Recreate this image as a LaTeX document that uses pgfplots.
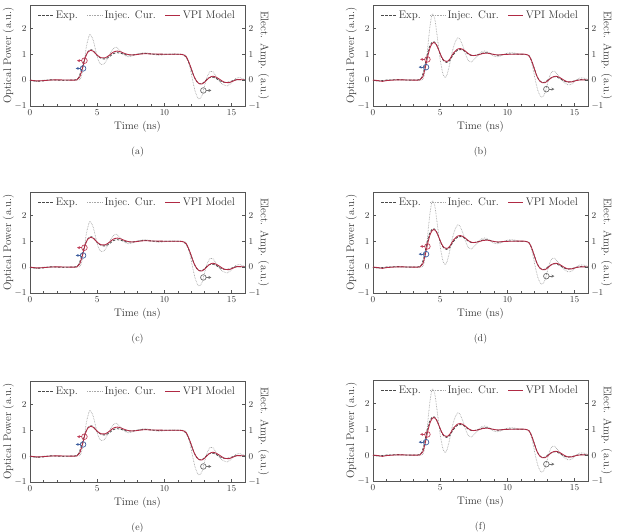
\documentclass[border=0pt]{standalone}
\usepackage{pgfplots}
\pgfplotsset{compat=1.18}
\usepackage{pgfplotstable}
\usetikzlibrary{arrows.meta}
\definecolor{expc}{HTML}{4A4A4A}
\definecolor{injc}{HTML}{A8A8A8}
\definecolor{vpic}{HTML}{B02A44}
\definecolor{axc}{HTML}{555555}
\definecolor{redm}{HTML}{C0405A}
\definecolor{bluem}{HTML}{3D5E9E}
\definecolor{graym}{HTML}{707070}

\pgfplotsset{
 expst/.style={expc, line width=0.8pt, dash pattern=on 2.5pt off 1.5pt, smooth, tension=0.5},
 injst/.style={injc, line width=0.7pt, dash pattern=on 0.7pt off 0.9pt, smooth, tension=0.5},
 vpist/.style={vpic, line width=0.85pt, smooth, tension=0.5},
 panelbase/.style={scale only axis, width=215pt, height=101pt, xmin=0, xmax=16, ymin=-1, ymax=2.9,
  anchor=south west,
  axis line style={axc, line width=0.6pt}, tick style={axc, line width=0.5pt},
  major tick length=3pt, minor tick length=2pt,
  tick label style={font=\fontsize{9.5}{11}\selectfont, text=black!80},
  label style={font=\fontsize{11}{13}\selectfont, text=black!80},
  ytick={-1,0,1,2}},
}

\pgfplotstableread{
t v
0 0
0.5 -0.04
1.0 -0.03
1.5 0.01
2.0 0.0
2.5 -0.01
3.0 0.0
3.4 0.01
3.6 0.08
3.8 0.35
4.0 0.72
4.2 1.0
4.4 1.15
4.6 1.17
4.8 1.08
5.0 0.95
5.3 0.84
5.6 0.82
5.9 0.9
6.2 1.02
6.5 1.06
6.8 1.03
7.2 0.97
7.6 0.97
8.0 1.0
8.5 1.03
9.0 1.01
9.5 0.99
10.0 1.0
10.5 1.0
11.0 1.0
11.4 0.98
11.6 0.9
11.8 0.7
12.0 0.42
12.2 0.15
12.4 -0.05
12.6 -0.14
12.8 -0.14
13.0 -0.06
13.2 0.05
13.5 0.12
13.8 0.08
14.1 -0.02
14.4 -0.08
14.7 -0.09
15.0 -0.04
15.3 0.01
15.6 0.02
16.0 0.0
}\expA

\pgfplotstableread{
t v
0 0
0.3 -0.06
0.6 -0.05
1.0 0.0
1.5 0.01
2.0 0.0
3.0 0.0
3.6 0.0
3.8 0.1
4.0 0.6
4.2 1.3
4.4 1.72
4.5 1.75
4.7 1.55
4.9 1.12
5.1 0.75
5.3 0.6
5.5 0.62
5.8 0.85
6.1 1.15
6.4 1.27
6.7 1.15
7.0 0.98
7.3 0.9
7.6 0.93
8.0 1.0
8.5 1.06
9.0 1.02
9.5 0.96
10.0 0.98
10.5 1.01
11.0 1.0
11.5 0.99
11.7 0.85
11.9 0.5
12.1 0.0
12.3 -0.45
12.5 -0.7
12.6 -0.73
12.8 -0.6
13.0 -0.2
13.2 0.15
13.4 0.33
13.6 0.33
13.8 0.18
14.1 -0.05
14.4 -0.18
14.7 -0.22
15.0 -0.1
15.3 0.06
15.6 0.1
15.8 0.06
16.0 0.02
}\injA

\pgfplotstableread{
t v
0 0
0.5 -0.03
1.0 -0.02
1.5 0.0
2.0 0.01
3.0 0.0
3.5 0.01
3.7 0.12
3.9 0.45
4.1 0.85
4.3 1.08
4.5 1.15
4.7 1.12
5.0 0.96
5.3 0.86
5.6 0.86
5.9 0.96
6.2 1.08
6.5 1.12
6.8 1.08
7.2 1.0
7.6 0.97
8.0 0.99
8.5 1.02
9.0 1.01
10.0 1.0
11.0 1.0
11.4 0.98
11.6 0.92
11.8 0.72
12.0 0.45
12.2 0.15
12.4 -0.04
12.6 -0.14
12.8 -0.15
13.0 -0.08
13.3 0.08
13.6 0.15
13.9 0.1
14.2 0.0
14.5 -0.09
14.8 -0.1
15.1 -0.04
15.4 0.02
15.8 0.01
16.0 0.0
}\vpiA

\pgfplotstableread{
t v
0 0
0.5 -0.03
1.0 0.0
1.5 0.01
2.0 0.02
2.5 0.0
3.0 0.0
3.4 0.01
3.6 0.08
3.8 0.4
4.0 0.9
4.2 1.28
4.4 1.46
4.55 1.48
4.7 1.4
4.9 1.15
5.1 0.88
5.3 0.72
5.5 0.68
5.7 0.75
5.9 0.92
6.2 1.12
6.5 1.18
6.8 1.12
7.1 1.0
7.4 0.94
7.8 0.98
8.2 1.05
8.5 1.06
8.9 1.0
9.3 0.96
9.7 0.99
10.2 1.01
10.8 1.0
11.3 0.99
11.6 0.95
11.8 0.75
12.0 0.45
12.2 0.15
12.4 -0.02
12.6 -0.1
12.8 -0.08
13.0 0.0
13.3 0.1
13.6 0.13
13.9 0.06
14.2 -0.03
14.5 -0.08
14.8 -0.06
15.1 -0.01
15.5 0.02
16.0 0.0
}\expB

\pgfplotstableread{
t v
0 0
0.3 -0.05
0.6 -0.04
1.0 0.0
2.0 0.0
3.0 0.0
3.6 0.0
3.8 0.15
4.0 0.9
4.2 1.9
4.35 2.45
4.45 2.55
4.6 2.35
4.8 1.6
5.0 0.8
5.2 0.25
5.35 0.1
5.5 0.2
5.7 0.6
5.9 1.1
6.1 1.45
6.3 1.63
6.45 1.6
6.7 1.3
6.9 0.98
7.1 0.75
7.3 0.7
7.5 0.78
7.8 0.95
8.1 1.1
8.4 1.12
8.7 1.02
9.0 0.92
9.3 0.9
9.6 0.96
10.0 1.04
10.4 1.06
10.8 1.01
11.2 0.99
11.5 0.98
11.7 0.85
11.9 0.45
12.1 -0.05
12.3 -0.45
12.5 -0.65
12.6 -0.66
12.8 -0.5
13.0 -0.1
13.2 0.22
13.4 0.35
13.6 0.3
13.9 0.1
14.2 -0.08
14.5 -0.18
14.8 -0.15
15.1 -0.02
15.4 0.08
15.7 0.08
16.0 0.02
}\injB

\pgfplotstableread{
t v
0 0
0.4 -0.02
0.7 -0.05
1.0 -0.02
1.5 0.0
2.0 0.01
3.0 0.0
3.5 0.01
3.7 0.12
3.9 0.5
4.1 0.98
4.3 1.32
4.5 1.45
4.7 1.38
4.9 1.15
5.1 0.9
5.3 0.75
5.5 0.72
5.7 0.8
6.0 1.05
6.3 1.2
6.5 1.22
6.8 1.15
7.1 1.02
7.4 0.95
7.8 0.97
8.2 1.03
8.5 1.04
8.9 1.0
9.3 0.97
9.8 0.99
10.5 1.0
11.3 1.0
11.6 0.94
11.8 0.75
12.0 0.45
12.2 0.15
12.4 -0.03
12.6 -0.1
12.8 -0.1
13.0 -0.03
13.3 0.1
13.6 0.15
13.9 0.1
14.2 0.0
14.5 -0.07
14.8 -0.07
15.1 -0.02
15.5 0.01
16.0 0.0
}\vpiB

\newcommand{\panel}[9]{%
 \begin{axis}[panelbase, at={(#1pt,#2pt)}, clip=false,
   xtick={0,5,10,15}, minor x tick num=4, tick pos=left,
   xlabel={Time (ns)}, ylabel={Optical Power (a.u.)}, ylabel shift=-6pt,
   xlabel shift=-1pt,
   legend columns=3,
   legend style={at={(0.5,0.97)}, anchor=north, draw=none, fill=none,
     font=\fontsize{11}{13}\selectfont, text=black!80, inner sep=1pt,
     /tikz/every even column/.append style={column sep=7pt}},
   legend image code/.code={\draw[##1] (0pt,0pt) -- (15pt,0pt);}]
  \addlegendimage{expst}\addlegendentry{Exp.}
  \addlegendimage{injst}\addlegendentry{Injec. Cur.}
  \addlegendimage{vpist}\addlegendentry{VPI Model}
  \addplot[injst, forget plot] table {#4};
  \addplot[expst, forget plot] table {#3};
  \addplot[vpist, forget plot] table {#5};
  \addplot[only marks, mark=o, mark size=2.8pt, redm, mark options={line width=0.7pt}, forget plot] coordinates {(4.05,#7)};
  \addplot[redm, line width=0.7pt, -{Stealth[length=3pt,width=3pt]}, forget plot] coordinates {(3.84,#7) (3.5,#7)};
  \addplot[only marks, mark=o, mark size=2.8pt, bluem, mark options={line width=0.7pt}, forget plot] coordinates {(3.95,#8)};
  \addplot[bluem, line width=0.7pt, -{Stealth[length=3pt,width=3pt]}, forget plot] coordinates {(3.74,#8) (3.4,#8)};
  \addplot[only marks, mark=o, mark size=2.8pt, graym, mark options={line width=0.7pt}, forget plot] coordinates {(12.9,#9)};
  \addplot[graym, line width=0.7pt, -{Stealth[length=3pt,width=3pt]}, forget plot] coordinates {(13.11,#9) (13.5,#9)};
  \node[font=\fontsize{10}{12}\selectfont, text=black!80, yshift=-46pt] at (rel axis cs:0.5,0) {#6};
 \end{axis}
 \begin{axis}[panelbase, at={(#1pt,#2pt)}, axis x line=none, axis y line*=right,
   ylabel={Elect. Amp. (a.u.)}, ylabel style={rotate=180}, ylabel shift=-9pt]
 \end{axis}
}

\begin{document}
\begin{tikzpicture}
\useasboundingbox (0pt,0pt) rectangle (618pt,532pt);
\panel{30}{426}{\expA}{\injA}{\vpiA}{(a)}{0.75}{0.45}{-0.4}
\panel{373}{426}{\expB}{\injB}{\vpiB}{(b)}{0.8}{0.5}{-0.35}
\panel{30}{239}{\expA}{\injA}{\vpiA}{(c)}{0.75}{0.45}{-0.4}
\panel{373}{239}{\expB}{\injB}{\vpiB}{(d)}{0.8}{0.5}{-0.35}
\panel{30}{50}{\expA}{\injA}{\vpiA}{(e)}{0.75}{0.45}{-0.4}
\panel{373}{51}{\expB}{\injB}{\vpiB}{(f)}{0.8}{0.5}{-0.35}
\end{tikzpicture}
\end{document}
